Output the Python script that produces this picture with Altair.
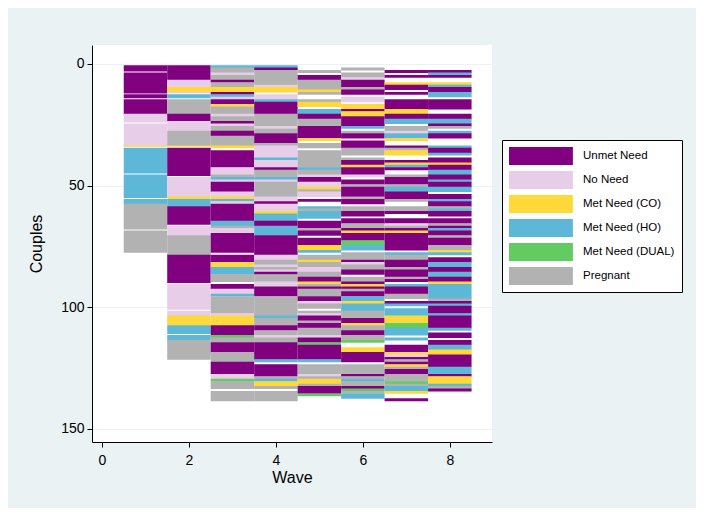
import altair as alt
import pandas as pd

# state codes -> legend labels
codes = ["U", "N", "C", "H", "D", "P"]
labels = ["Unmet Need", "No Need", "Met Need (CO)", "Met Need (HO)", "Met Need (DUAL)", "Pregnant"]
colors = ["#800080", "#E8CDE8", "#FFD83A", "#5DB8D8", "#62CC62", "#B2B2B2"]

# run-length sequences per wave, top (couple 0) to bottom
# "." = no observation; ("/", 0) = thin white seam after the previous run
wave1 = [("U",3),("/",0),("U",9),("/",0),("U",2),("/",0),("U",6),("N",4),("/",0),("N",9),
         ("C",1),("/",0),("H",11),("/",0),("H",10),("/",0),("H",2),("P",11),("/",0),("P",9)]
wave2 = [("U",6),("N",3),("C",2),("N",1),("/",0),("H",2),("/",0),("P",6),("U",3),("N",4),
         ("P",6),("C",1),("/",0),("U",12),("/",0),("N",8),("C",1),("H",3),("U",8),("/",0),
         ("N",4),("P",8),("U",12),("/",0),("N",11),("/",0),("N",2),("C",4),("H",4),("/",0),
         ("H",2),("P",8)]
wave3 = [("H",1),("P",2),("N",1),("P",2),("U",1),("P",2),("C",2),("U",1),("H",1),("N",1),
         ("U",2),("C",1),("P",3),("N",1),("P",2),("U",1),("N",1),("P",2),("U",2),("P",4),
         ("C",1),(".",1),("U",7),("N",3),("P",1),("H",1),("N",1),("U",4),("N",2),("C",1),
         ("H",1),("N",1),("U",7),("H",2),("P",1),("N",2),("U",8),(".",1),("U",3),("C",2),
         ("H",3),("P",3),(".",1),("U",2),("N",2),("H",1),("P",7),("N",1),("C",4),("U",4),
         ("D",1),("P",2),("U",4),("P",4),("U",5),("N",2),("D",1),("P",3),(".",1),("P",4)]
wave4 = [("H",1),("U",1),("P",6),("N",1),("C",2),(".",1),("N",2),("H",1),("U",5),("P",5),
         ("N",1),("P",2),("U",4),("P",1),("N",5),("H",1),("N",3),("U",1),("P",3),("H",1),
         ("N",1),("P",6),("N",2),("U",1),("N",3),("C",1),("H",3),("U",2),("H",4),("U",8),
         ("N",2),("P",2),("N",1),("P",1),("N",1),("U",1),("P",3),("N",2),("U",4),("P",8),
         ("H",1),("P",3),("U",2),("P",2),("N",1),("P",2),("U",7),("H",1),(".",1),("U",5),
         ("P",1),("H",1),("C",2),("P",1),(".",1),("P",4)]
wave5 = [(".",2),("P",1),(".",1),("U",2),("P",4),("C",1),("P",1),(".",2),("P",1),("C",2),
         (".",1),("H",2),("U",2),("P",3),("U",5),("C",1),(".",1),("P",2),(".",1),("P",7),
         ("H",1),("P",2),("N",1),("U",2),("N",2),("C",1),("P",1),("N",2),(".",1),("U",1),
         (".",2),("H",1),("P",1),("H",3),(".",1),("U",3),("P",1),("U",2),(".",1),("U",3),
         ("C",2),("H",1),(".",1),("P",2),("C",1),("P",2),("N",2),("P",2),("U",2),("C",1),
         ("P",1),("U",1),("P",3),("U",2),("N",1),("P",2),(".",1),("P",1),("N",1),("U",2),
         ("P",1),("U",2),("P",3),("N",1),("U",2),("D",1),("U",6),("H",1),(".",1),("P",4),
         ("N",1),("P",1),("C",2),("P",1),("U",3),("D",1)]
wave6 = [(".",1),("P",1),(".",1),("P",2),("N",1),("U",3),("P",1),("U",2),(".",1),("N",2),
         (".",1),("C",2),("U",1),("C",2),("U",4),("H",1),(".",1),("P",1),("U",2),(".",1),
         ("U",3),("P",3),(".",1),("P",1),("U",2),("C",1),("U",3),("N",1),(".",1),("U",2),
         ("P",1),("U",4),("P",1),("U",2),(".",1),("P",2),("U",2),(".",1),("U",2),("P",2),
         ("U",1),("C",1),("U",3),("D",2),("H",2),(".",1),("P",3),("U",1),("N",1),("P",2),
         ("U",2),(".",1),("P",2),("U",1),("C",1),("U",1),("P",1),("U",2),("H",2),("C",1),
         ("H",3),("P",3),("U",2),("C",1),("P",2),("U",2),("P",2),("D",1),(".",2),("C",2),
         ("U",4),(".",1),("P",4),("U",1),("P",1),("H",1),("P",2),("U",1),("D",1),("P",1),
         ("H",2)]
wave7 = [(".",2),("U",1),(".",1),("U",1),(".",2),("C",1),("U",2),(".",1),("U",1),(".",2),
         ("U",4),("C",2),("U",2),("H",2),(".",1),("P",2),("N",1),("H",2),("C",1),(".",2),
         ("U",1),("P",1),("C",2),(".",2),("U",1),("C",1),("H",1),("U",1),(".",2),("P",1),
         ("U",3),("P",1),("H",2),("U",3),("P",1),(".",2),("P",2),("U",1),(".",2),("U",2),
         ("N",1),("P",1),("U",1),("C",1),("U",7),(".",1),("H",1),("P",2),("U",3),("P",1),
         ("U",3),("P",1),("U",1),(".",1),("H",1),("U",3),("P",2),(".",1),("U",1),("H",1),
         (".",1),("H",3),("C",3),("D",2),("H",3),(".",1),("H",1),(".",2),("U",3),("C",1),
         ("N",1),("U",1),("P",1),("U",1),("C",1),("P",1),("U",2),("P",3),("D",1),("P",1),
         ("H",2),("C",1),(".",2),("U",1)]
wave8 = [(".",2),("U",1),("H",1),("U",1),(".",2),("C",1),("H",1),("U",2),("H",2),(".",1),
         ("U",4),(".",2),("U",2),("H",2),("U",1),("P",1),(".",1),("H",1),("U",2),(".",3),
         ("H",1),("U",2),("H",1),(".",1),("U",2),("C",1),("U",2),("H",2),("U",2),("H",1),
         ("U",2),("H",2),(".",1),("U",2),("H",1),("U",2),("P",1),("H",1),("U",2),(".",1),
         ("U",2),("P",1),("U",1),("H",1),("U",2),("P",1),("U",3),("P",2),("C",1),("H",1),
         (".",1),("U",2),("H",2),("U",2),("H",2),("U",2),("C",1),("H",6),("P",1),("U",1),
         ("H",1),("U",3),("H",1),("U",5),("H",1),(".",1),("U",2),(".",1),("U",2),("H",2),
         ("C",2),("U",5),("H",3),("U",1),("C",3),("H",1),("P",1),("U",1)]

waves = [wave1, wave2, wave3, wave4, wave5, wave6, wave7, wave8]

code_label = dict(zip(codes, labels))
overlap = 0.2   # small overlap so adjacent rows don't show anti-aliasing seams
seam = -0.4     # visible thin white line where the reference shows one
rows = []
for w, runs in enumerate(waves, start=1):
    i = 0
    for k, (code, n) in enumerate(runs):
        if code == "/":
            continue
        if code != ".":
            nxt = runs[k + 1][0] if k + 1 < len(runs) else None
            extra = seam if nxt == "/" else overlap
            rows.append({"x0": w - 0.5, "x1": w + 0.5, "y0": i + 0.5,
                         "y1": i + n + 0.5 + extra, "state": code_label[code]})
        i += n
df = pd.DataFrame(rows)

font = "Liberation Sans"
# wide swatch: 18px tall (size 324 -> r = 9), extends to the right to ~64px
sym = "M-1,-1H6.1V1H-1Z"

chart = alt.Chart(df).mark_rect(strokeWidth=0).encode(
    x=alt.X("x0:Q", scale=alt.Scale(domain=[-0.23, 8.97], nice=False, zero=False),
            axis=alt.Axis(values=[0, 2, 4, 6, 8], title="Wave", grid=False, labelFlush=False)),
    x2="x1:Q",
    y=alt.Y("y0:Q", scale=alt.Scale(domain=[-7.8, 155.5], nice=False, zero=False, reverse=True),
            axis=alt.Axis(values=[0, 50, 100, 150], title="Couples", grid=True, labelFlush=False)),
    y2="y1:Q",
    color=alt.Color("state:N", scale=alt.Scale(domain=labels, range=colors),
                    legend=alt.Legend(title=None, orient="none", legendX=410, legendY=95,
                                      symbolType=sym, symbolSize=324, symbolStrokeWidth=0,
                                      symbolOpacity=1, rowPadding=6, labelOffset=56,
                                      padding=7, strokeColor="#000000", fillColor="#FFFFFF",
                                      labelFont=font, labelFontSize=11.5, labelColor="#000000")),
).properties(
    width=400, height=397,
    autosize=alt.AutoSizeParams(type="none"),
    padding={"left": 84, "top": 37, "right": 204, "bottom": 66},
    background="#EAF2F3",
).configure_view(
    fill="#FFFFFF", stroke=None
).configure_axis(
    labelFont=font, titleFont=font, labelFontSize=14, titleFontSize=16,
    labelColor="#000000", titleColor="#000000", titleFontWeight="normal",
    domainColor="#000000", tickColor="#000000", tickSize=5,
    gridColor="#EAF2F3", gridWidth=1
).configure_axisY(
    labelAngle=0, labelPadding=3, titlePadding=16
).configure_axisX(
    labelPadding=6, titlePadding=2
)

chart.save("out.html", embed_options={"renderer": "svg", "actions": False})
